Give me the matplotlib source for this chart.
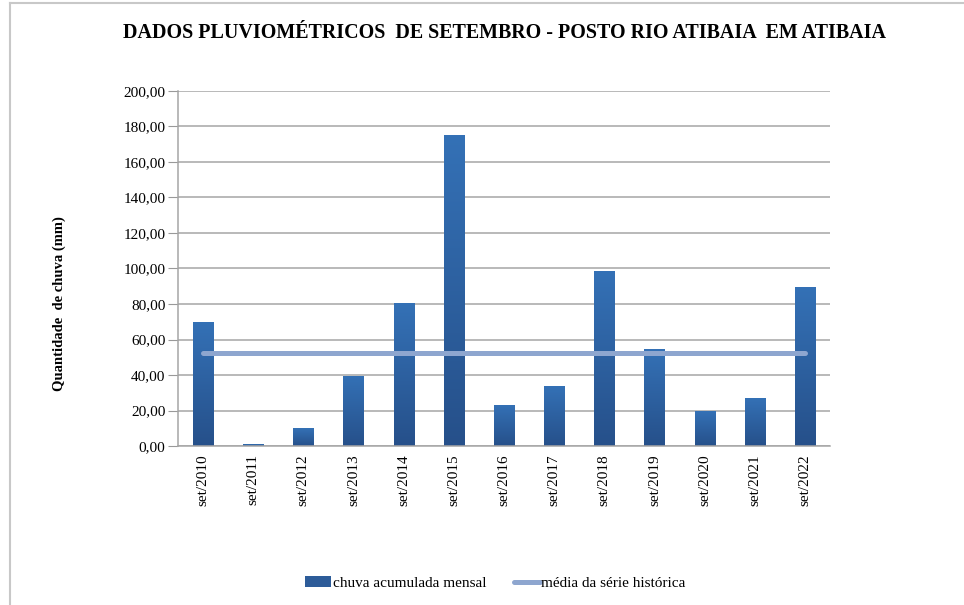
import numpy as np
import matplotlib
matplotlib.use("Agg")
import matplotlib.pyplot as plt
from matplotlib.colors import LinearSegmentedColormap
from matplotlib.lines import Line2D
from matplotlib.patches import Patch

plt.rcParams['font.family'] = ['Liberation Serif', 'DejaVu Serif']

meses = ["set/2010", "set/2011", "set/2012", "set/2013", "set/2014", "set/2015", "set/2016",
         "set/2017", "set/2018", "set/2019", "set/2020", "set/2021", "set/2022"]
chuva = [70.0, 1.1, 10.1, 39.6, 80.3, 175.1, 23.1, 33.8, 98.5, 54.6, 19.7, 26.9, 89.5]
media = 52.5

fig = plt.figure(figsize=(9.64, 6.05), dpi=100)
ax = fig.add_axes([0.1846, 0.2628, 0.8610 - 0.1846, 0.8496 - 0.2628])

x = np.arange(len(meses))
w = 0.4
bars = ax.bar(x, chuva, width=w, color="none", edgecolor="none", zorder=2)

# gradiente vertical nas barras (escuro embaixo, claro em cima)
cmap = LinearSegmentedColormap.from_list("azul", ["#26508a", "#3471b6"])
grad = np.linspace(0, 1, 256).reshape(-1, 1)
for b in bars:
    x0, y0 = b.get_x(), b.get_y()
    im = ax.imshow(grad, cmap=cmap, origin="lower", aspect="auto",
                   extent=[x0, x0 + b.get_width(), y0, y0 + b.get_height()], zorder=2)
    im.set_clip_path(b)

ax.plot(x, [media] * len(x), color="#8ea6cf", lw=3.6, solid_capstyle="round", zorder=3)

ax.set_xlim(-0.5, len(meses) - 0.5)
ax.set_ylim(0, 200)
ax.set_yticks(np.arange(0, 201, 20))
ax.set_yticklabels([f"{v:.2f}".replace(".", ",") for v in np.arange(0, 201, 20)], fontsize=11)
ax.set_xticks(x)
ax.set_xticklabels(meses, rotation=90, fontsize=11)
ax.tick_params(axis="x", length=0, pad=6)
ax.tick_params(axis="y", length=7, color="#999999", pad=2)
ax.yaxis.grid(True, color="#a6a6a6", lw=1.1, zorder=0)
ax.set_axisbelow(True)
for s in ["top", "right"]:
    ax.spines[s].set_visible(False)
ax.spines["left"].set_color("#a6a6a6")
ax.spines["bottom"].set_color("#a6a6a6")
ax.spines["left"].set_linewidth(1.1)
ax.spines["bottom"].set_linewidth(1.1)

ax.set_ylabel("Quantidade  de chuva (mm)", fontsize=10.5, fontweight="bold")
ax.yaxis.set_label_coords(-0.172, 0.40)

fig.text(0.523, 0.946, "DADOS PLUVIOMÉTRICOS  DE SETEMBRO - POSTO RIO ATIBAIA  EM ATIBAIA",
         ha="center", va="center", fontsize=14.4, fontweight="bold")

handles = [Patch(facecolor="#2d5c99", edgecolor="none"),
           Line2D([0], [0], color="#8ea6cf", lw=3.6, solid_capstyle="round")]
fig.legend(handles, ["chuva acumulada mensal", "média da série histórica"],
           loc="center", bbox_to_anchor=(0.514, 0.036), ncol=2, frameon=False,
           fontsize=11, handlelength=1.7, handletextpad=0.1, columnspacing=1.8)

# moldura parcial da imagem original
fig.add_artist(Line2D([10 / 964, 1], [1 - 3 / 605, 1 - 3 / 605], color="#c8c8c8", lw=1.5))
fig.add_artist(Line2D([10 / 964, 10 / 964], [0, 1 - 3 / 605], color="#c8c8c8", lw=1.5))

fig.savefig("out.png", dpi=100)
